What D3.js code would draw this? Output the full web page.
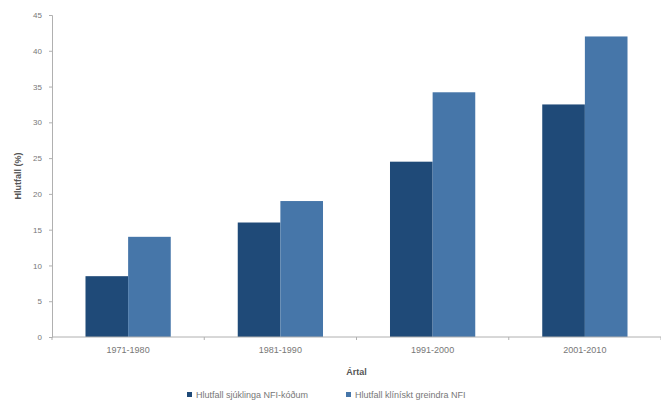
<!DOCTYPE html>
<html>
<head>
<meta charset="utf-8">
<script src="https://cdn.jsdelivr.net/npm/d3@7"></script>
<style>
  body { margin: 0; background: #fff; }
  svg { font-family: "Liberation Sans", Arial, sans-serif; }
</style>
</head>
<body>
<svg id="chart" width="661" height="407"></svg>
<script>
// data
let periods = ["1971-1980", "1981-1990", "1991-2000", "2001-2010"]
let seriesNames = ["Hlutfall sjúklinga NFI-kóðum", "Hlutfall klínískt greindra NFI"]
let darkValues = [8.5, 16, 24.5, 32.5]
let lightValues = [14, 19, 34.2, 42]
let yTicks = [0, 5, 10, 15, 20, 25, 30, 35, 40, 45]
let colors = ["#1f4a78", "#4676a9"]

let svg = d3.select("#chart")
let margin = { top: 15, right: 0, bottom: 70, left: 52 }
let width = 661 - margin.left - margin.right
let height = 407 - margin.top - margin.bottom

let g = svg.append("g")
    .attr("transform", "translate(" + margin.left + "," + margin.top + ")")

let x0 = d3.scaleBand()
    .domain(periods)
    .range([0, width])
    .paddingInner(0.44)
    .paddingOuter(0.22)

let x1 = d3.scaleBand()
    .domain([0, 1])
    .range([0, x0.bandwidth()])

let y = d3.scaleLinear()
    .domain([0, 45])
    .range([height, 0])

// y axis
let gY = g.append("g")
    .call(d3.axisLeft(y).tickValues(yTicks).tickSize(3).tickPadding(7))
gY.select(".domain").attr("stroke", "#b0b0b0")
gY.selectAll(".tick line").attr("stroke", "#b0b0b0")
gY.selectAll("text").attr("fill", "#777").style("font-size", "8px")

// bars
let rows = periods.map((p, i) => ({ period: p, values: [darkValues[i], lightValues[i]] }))
let groups = g.selectAll(".grp")
    .data(rows)
    .enter().append("g")
    .attr("transform", d => "translate(" + x0(d.period) + ",0)")

groups.selectAll("rect")
    .data(d => d.values.map((v, k) => ({ k: k, v: v })))
    .enter().append("rect")
    .attr("x", d => x1(d.k))
    .attr("y", d => y(d.v))
    .attr("width", x1.bandwidth())
    .attr("height", d => height - y(d.v))
    .attr("fill", d => colors[d.k])

// x axis with ticks between categories
let gX = g.append("g")
    .attr("transform", "translate(0," + height + ")")
gX.append("line")
    .attr("x1", 0).attr("x2", width)
    .attr("stroke", "#b0b0b0")
let bounds = d3.range(periods.length + 1).map(i => i * (width / periods.length))
gX.selectAll(".sep")
    .data(bounds)
    .enter().append("line")
    .attr("x1", d => d).attr("x2", d => d)
    .attr("y1", 0).attr("y2", 3)
    .attr("stroke", "#b0b0b0")
gX.selectAll(".lbl")
    .data(periods)
    .enter().append("text")
    .attr("x", d => x0(d) + x0.bandwidth() / 2)
    .attr("y", 16)
    .attr("text-anchor", "middle")
    .attr("fill", "#777")
    .style("font-size", "9px")
    .text(d => d)

// axis titles
svg.append("text")
    .attr("x", margin.left + width / 2)
    .attr("y", 375)
    .attr("text-anchor", "middle")
    .attr("fill", "#555")
    .style("font-size", "9px")
    .style("font-weight", "bold")
    .text("Ártal")

svg.append("text")
    .attr("transform", "rotate(-90)")
    .attr("x", -176)
    .attr("y", 21)
    .attr("text-anchor", "middle")
    .attr("fill", "#555")
    .style("font-size", "9px")
    .style("font-weight", "bold")
    .text("Hlutfall (%)")

// legend
let legendX = [187, 346]
let legend = svg.selectAll(".leg")
    .data(seriesNames)
    .enter().append("g")
    .attr("transform", (d, i) => "translate(" + legendX[i] + ",395)")
legend.append("rect")
    .attr("x", 0).attr("y", -3)
    .attr("width", 5).attr("height", 5)
    .attr("fill", (d, i) => colors[i])
legend.append("text")
    .attr("x", 9).attr("y", 2.5)
    .attr("fill", "#777")
    .style("font-size", "9px")
    .text(d => d)
</script>
</body>
</html>
